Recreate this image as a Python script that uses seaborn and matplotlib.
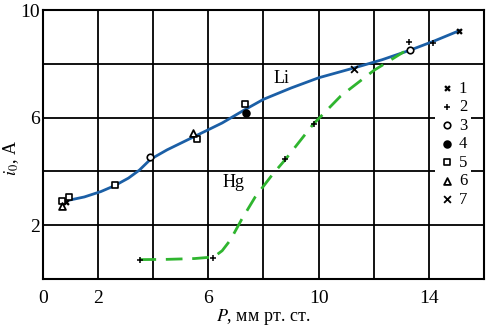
import matplotlib
matplotlib.use('Agg')
import matplotlib.pyplot as plt
import seaborn as sns
import pandas as pd

# ---- data ----
# Li curve (solid blue)
li_x = [0.9, 1.5, 2.1, 2.6, 3.1, 3.5, 3.9, 4.5, 5.5, 6.5, 7.3, 8.0, 9.0, 10.0, 11.3, 12.3, 13.3, 14.2, 15.1]
li_y = [2.92, 3.05, 3.25, 3.47, 3.75, 4.05, 4.45, 4.8, 5.3, 5.8, 6.28, 6.68, 7.1, 7.48, 7.85, 8.15, 8.5, 8.85, 9.23]

# Hg curve (dashed green)
hg_x = [3.5, 4.5, 5.5, 6.2, 6.5, 6.8, 7.2, 7.7, 8.3, 8.8, 9.8, 10.8, 12.0, 13.1]
hg_y = [0.72, 0.73, 0.76, 0.82, 1.05, 1.45, 2.2, 3.05, 3.85, 4.45, 5.75, 6.8, 7.75, 8.45]

# measured points, series 1..7
s1_x = [0.85, 15.1]
s1_y = [2.85, 9.23]
s2_x = [3.52, 6.18, 8.78, 9.83, 13.28, 14.14]
s2_y = [0.71, 0.79, 4.45, 5.76, 8.82, 8.79]
s3_x = [3.88, 13.32]
s3_y = [4.55, 8.51]
s4_x = [7.35]
s4_y = [6.18]
s5_x = [0.69, 0.94, 2.61, 5.58, 7.33]
s5_y = [2.91, 3.06, 3.49, 5.19, 6.5]
s6_x = [0.69, 5.45]
s6_y = [2.71, 5.42]
s7_x = [11.3]
s7_y = [7.82]

plt.rcParams['font.family'] = ['Liberation Serif', 'DejaVu Serif']
plt.rcParams['mathtext.fontset'] = 'stix'

fig = plt.figure(figsize=(4.93, 3.26), dpi=100)
ax = fig.add_axes([0.0872, 0.1442, 0.8945, 0.8251])

ax.set_xlim(0, 16)
ax.set_ylim(0, 10)
ax.set_xticks(range(0, 17, 2))
ax.set_xticklabels(['0', '2', '', '6', '', '10', '', '14', ''])
ax.set_yticks(range(0, 11, 2))
ax.set_yticklabels(['', '2', '', '6', '', '10'])
ax.tick_params(length=0, labelsize=14)
ax.tick_params(axis='x', pad=8)
ax.tick_params(axis='y', pad=2)
ax.grid(True, color='black', linewidth=1.3)
ax.set_axisbelow(True)
for sp in ax.spines.values():
    sp.set_color('black')
    sp.set_linewidth(1.5)

sns.lineplot(x=li_x, y=li_y, color='#1b5fa6', linewidth=2, ax=ax, sort=False)
sns.lineplot(x=hg_x, y=hg_y, color='#2fb52f', linewidth=2, ax=ax, sort=False,
             dashes=False, linestyle=(0, (6, 3.5)))

series = [
    ('1', s1_x, s1_y, 'X', 'black', 'black', 0.0, 22),
    ('2', s2_x, s2_y, '+', 'black', 'black', 1.1, 24),
    ('3', s3_x, s3_y, 'o', 'white', 'black', 1.2, 22),
    ('4', s4_x, s4_y, 'o', 'black', 'black', 1.2, 24),
    ('5', s5_x, s5_y, 's', 'white', 'black', 1.2, 22),
    ('6', s6_x, s6_y, '^', 'white', 'black', 1.3, 24),
    ('7', s7_x, s7_y, 'x', 'black', 'black', 1.3, 24),
]
for lab, xs, ys, m, fc, ec, lw, s in series:
    df = pd.DataFrame({'P': xs, 'i0': ys})
    sns.scatterplot(data=df, x='P', y='i0', marker=m, facecolor=fc, edgecolor=ec,
                    linewidth=lw, s=s, ax=ax, label=lab, zorder=5)

ax.text(8.65, 7.45, 'Li', fontsize=13, ha='center', va='center')
ax.text(6.9, 3.6, 'Hg', fontsize=13, ha='center', va='center')

leg = ax.legend(loc='upper left', bbox_to_anchor=(0.89, 0.75), frameon=True,
                facecolor='white', edgecolor='none', framealpha=1, fancybox=False,
                fontsize=12, handletextpad=0.2, labelspacing=0.15, borderpad=0.2,
                handlelength=1.0, borderaxespad=0)
leg.set_zorder(10)

ax.set_xlabel('$P$, мм рт. ст.', fontsize=13, labelpad=0)
ax.set_ylabel('$i_0$, A', fontsize=13)
ax.yaxis.set_label_coords(-0.05, 0.45)

fig.savefig('out.png', dpi=100)
